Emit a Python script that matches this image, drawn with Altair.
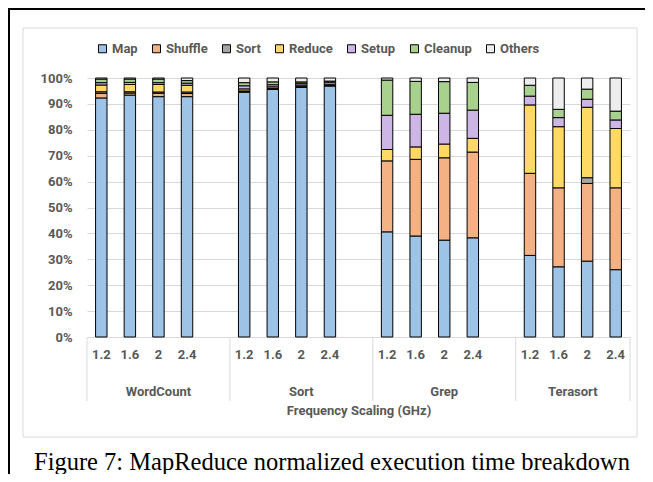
import altair as alt
import pandas as pd

groups = ["WordCount", "Sort", "Grep", "Terasort"]
freqs = ["1.2", "1.6", "2", "2.4"]
components = ["Map", "Shuffle", "Sort", "Reduce", "Setup", "Cleanup", "Others"]
colors = ["#9DC3E6", "#F4B183", "#A5A5A5", "#FFD966", "#CDB6E6", "#A9D18E", "#EDEDED"]

# percent of execution time, rows = frequency (1.2, 1.6, 2, 2.4), columns = components
wordcount = [
    [92.3, 1.8, 0.6, 2.6, 0.9, 1.4, 0.4],
    [93.4, 0.8, 0.5, 2.8, 0.8, 1.3, 0.4],
    [92.8, 1.3, 0.5, 2.9, 0.7, 1.4, 0.4],
    [92.8, 1.2, 0.6, 2.6, 0.8, 1.0, 1.0],
]
sort_vals = [
    [94.5, 0.3, 0.2, 0.8, 1.2, 1.2, 1.8],
    [95.6, 0.2, 0.2, 0.6, 0.8, 1.1, 1.5],
    [96.4, 0.2, 0.2, 0.5, 0.7, 0.5, 1.5],
    [96.9, 0.2, 0.1, 0.4, 0.8, 0.4, 1.2],
]
grep = [
    [40.6, 27.4, 0.0, 4.4, 13.2, 13.6, 0.8],
    [39.0, 29.6, 0.0, 4.8, 12.6, 12.7, 1.3],
    [37.4, 31.8, 0.0, 5.3, 11.9, 12.2, 1.4],
    [38.3, 33.1, 0.0, 5.3, 10.9, 10.7, 1.7],
]
terasort = [
    [31.5, 31.7, 0.0, 26.4, 3.4, 4.2, 2.8],
    [27.1, 30.5, 0.0, 23.6, 3.5, 3.2, 12.1],
    [29.3, 30.0, 2.2, 27.2, 3.1, 3.9, 4.3],
    [26.0, 31.6, 0.0, 22.9, 3.3, 3.4, 12.8],
]
caption = "Figure 7: MapReduce normalized execution time breakdown"
x_title = "Frequency Scaling (GHz)"

group_vals = {"WordCount": wordcount, "Sort": sort_vals, "Grep": grep, "Terasort": terasort}

# slot keys for the band scale: 4 bars per group, one empty slot between groups
slots = []
for gi, g in enumerate(groups):
    for f in freqs:
        slots.append(f"{g}|{f}")
    if gi < len(groups) - 1:
        slots.append(f"{g}|")

rows = []
for g in groups:
    for fi, f in enumerate(freqs):
        for ci, c in enumerate(components):
            v = group_vals[g][fi][ci]
            if v > 0:
                rows.append({"slot": f"{g}|{f}", "component": c, "ord": ci, "value": v})
df = pd.DataFrame(rows)

W, H = 543, 259
FONT = "Roboto"
FS = 13
GREY = "#595959"

x_scale = alt.Scale(domain=slots, paddingInner=0, paddingOuter=0)

bars = alt.Chart(df).mark_bar(
    width=alt.RelativeBandSize(0.4), stroke="black", strokeWidth=1
).encode(
    x=alt.X("slot:N", scale=x_scale, sort=slots,
            axis=alt.Axis(labelExpr="split(datum.label, '|')[1]", labelAngle=0,
                          ticks=False, domain=False, grid=False, labelPadding=11,
                          labelFont=FONT, labelFontWeight="bold", labelFontSize=FS,
                          labelColor=GREY, title=x_title, titleFont=FONT,
                          titleFontWeight="bold", titleFontSize=FS, titleColor=GREY,
                          titlePadding=43)),
    y=alt.Y("value:Q", stack="zero", scale=alt.Scale(domain=[0, 100], nice=False),
            axis=alt.Axis(values=list(range(0, 101, 10)), labelExpr="datum.value + '%'",
                          grid=True, gridColor="#D9D9D9", domain=False, ticks=False,
                          labelPadding=15, labelFont=FONT, labelFontWeight="bold",
                          labelFontSize=FS, labelColor=GREY, title=None)),
    color=alt.Color("component:N", scale=alt.Scale(domain=components, range=colors),
                    legend=alt.Legend(orient="none", legendX=9, legendY=-36,
                                      direction="horizontal", title=None,
                                      symbolType="square", symbolSize=64,
                                      symbolStrokeColor="black", symbolStrokeWidth=1,
                                      labelFont=FONT, labelFontWeight="bold",
                                      labelFontSize=FS, labelColor=GREY,
                                      labelOffset=3, columnPadding=12)),
    order=alt.Order("ord:Q", sort="ascending"),
)

# group separators below the plot
sep_start = pd.DataFrame({"slot": [f"{g}|{freqs[0]}" for g in groups]})
sep_end = pd.DataFrame({"slot": [f"{groups[-1]}|{freqs[-1]}"]})
sep1 = alt.Chart(sep_start).mark_rule(color="#D9D9D9", strokeWidth=1).encode(
    x=alt.X("slot:N", scale=x_scale, sort=slots, bandPosition=0),
    y=alt.value(H), y2=alt.value(H + 64))
sep2 = alt.Chart(sep_end).mark_rule(color="#D9D9D9", strokeWidth=1).encode(
    x=alt.X("slot:N", scale=x_scale, sort=slots, bandPosition=1),
    y=alt.value(H), y2=alt.value(H + 64))

# group labels
glab_a = pd.DataFrame({"slot": [f"{g}|2" for g in groups[:-1]], "name": groups[:-1]})
glab_b = pd.DataFrame({"slot": [f"{groups[-1]}|2"], "name": [groups[-1]]})
gtext_style = dict(font=FONT, fontWeight="bold", fontSize=FS, color=GREY, baseline="middle")
gl1 = alt.Chart(glab_a).mark_text(**gtext_style).encode(
    x=alt.X("slot:N", scale=x_scale, sort=slots, bandPosition=0.5),
    y=alt.value(H + 55), text="name:N")
gl2 = alt.Chart(glab_b).mark_text(**gtext_style).encode(
    x=alt.X("slot:N", scale=x_scale, sort=slots, bandPosition=0),
    y=alt.value(H + 55), text="name:N")

one = pd.DataFrame({"t": [caption]})
box = alt.Chart(one).mark_rect(fillOpacity=0, stroke="#D9D9D9", strokeWidth=1).encode(
    x=alt.value(-64), x2=alt.value(550), y=alt.value(-50), y2=alt.value(359))
frame_top = alt.Chart(one).mark_rule(color="black", strokeWidth=2).encode(
    x=alt.value(-79), x2=alt.value(560), y=alt.value(-69))
frame_left = alt.Chart(one).mark_rule(color="black", strokeWidth=2).encode(
    x=alt.value(-78), y=alt.value(-70), y2=alt.value(396))
cap = alt.Chart(one).mark_text(font="Liberation Serif", fontSize=24.5, color="black",
                               baseline="middle", align="center").encode(
    x=alt.value(245), y=alt.value(385), text="t:N")

chart = alt.layer(box, frame_top, frame_left, bars, sep1, sep2, gl1, gl2, cap).properties(
    width=W, height=H,
    autosize=alt.AutoSizeParams(type="none"),
    padding={"left": 79, "top": 70, "right": 15, "bottom": 137},
    background="white",
).configure_view(stroke=None)

chart.save("out.html", embed_options={"renderer": "svg", "actions": False})
